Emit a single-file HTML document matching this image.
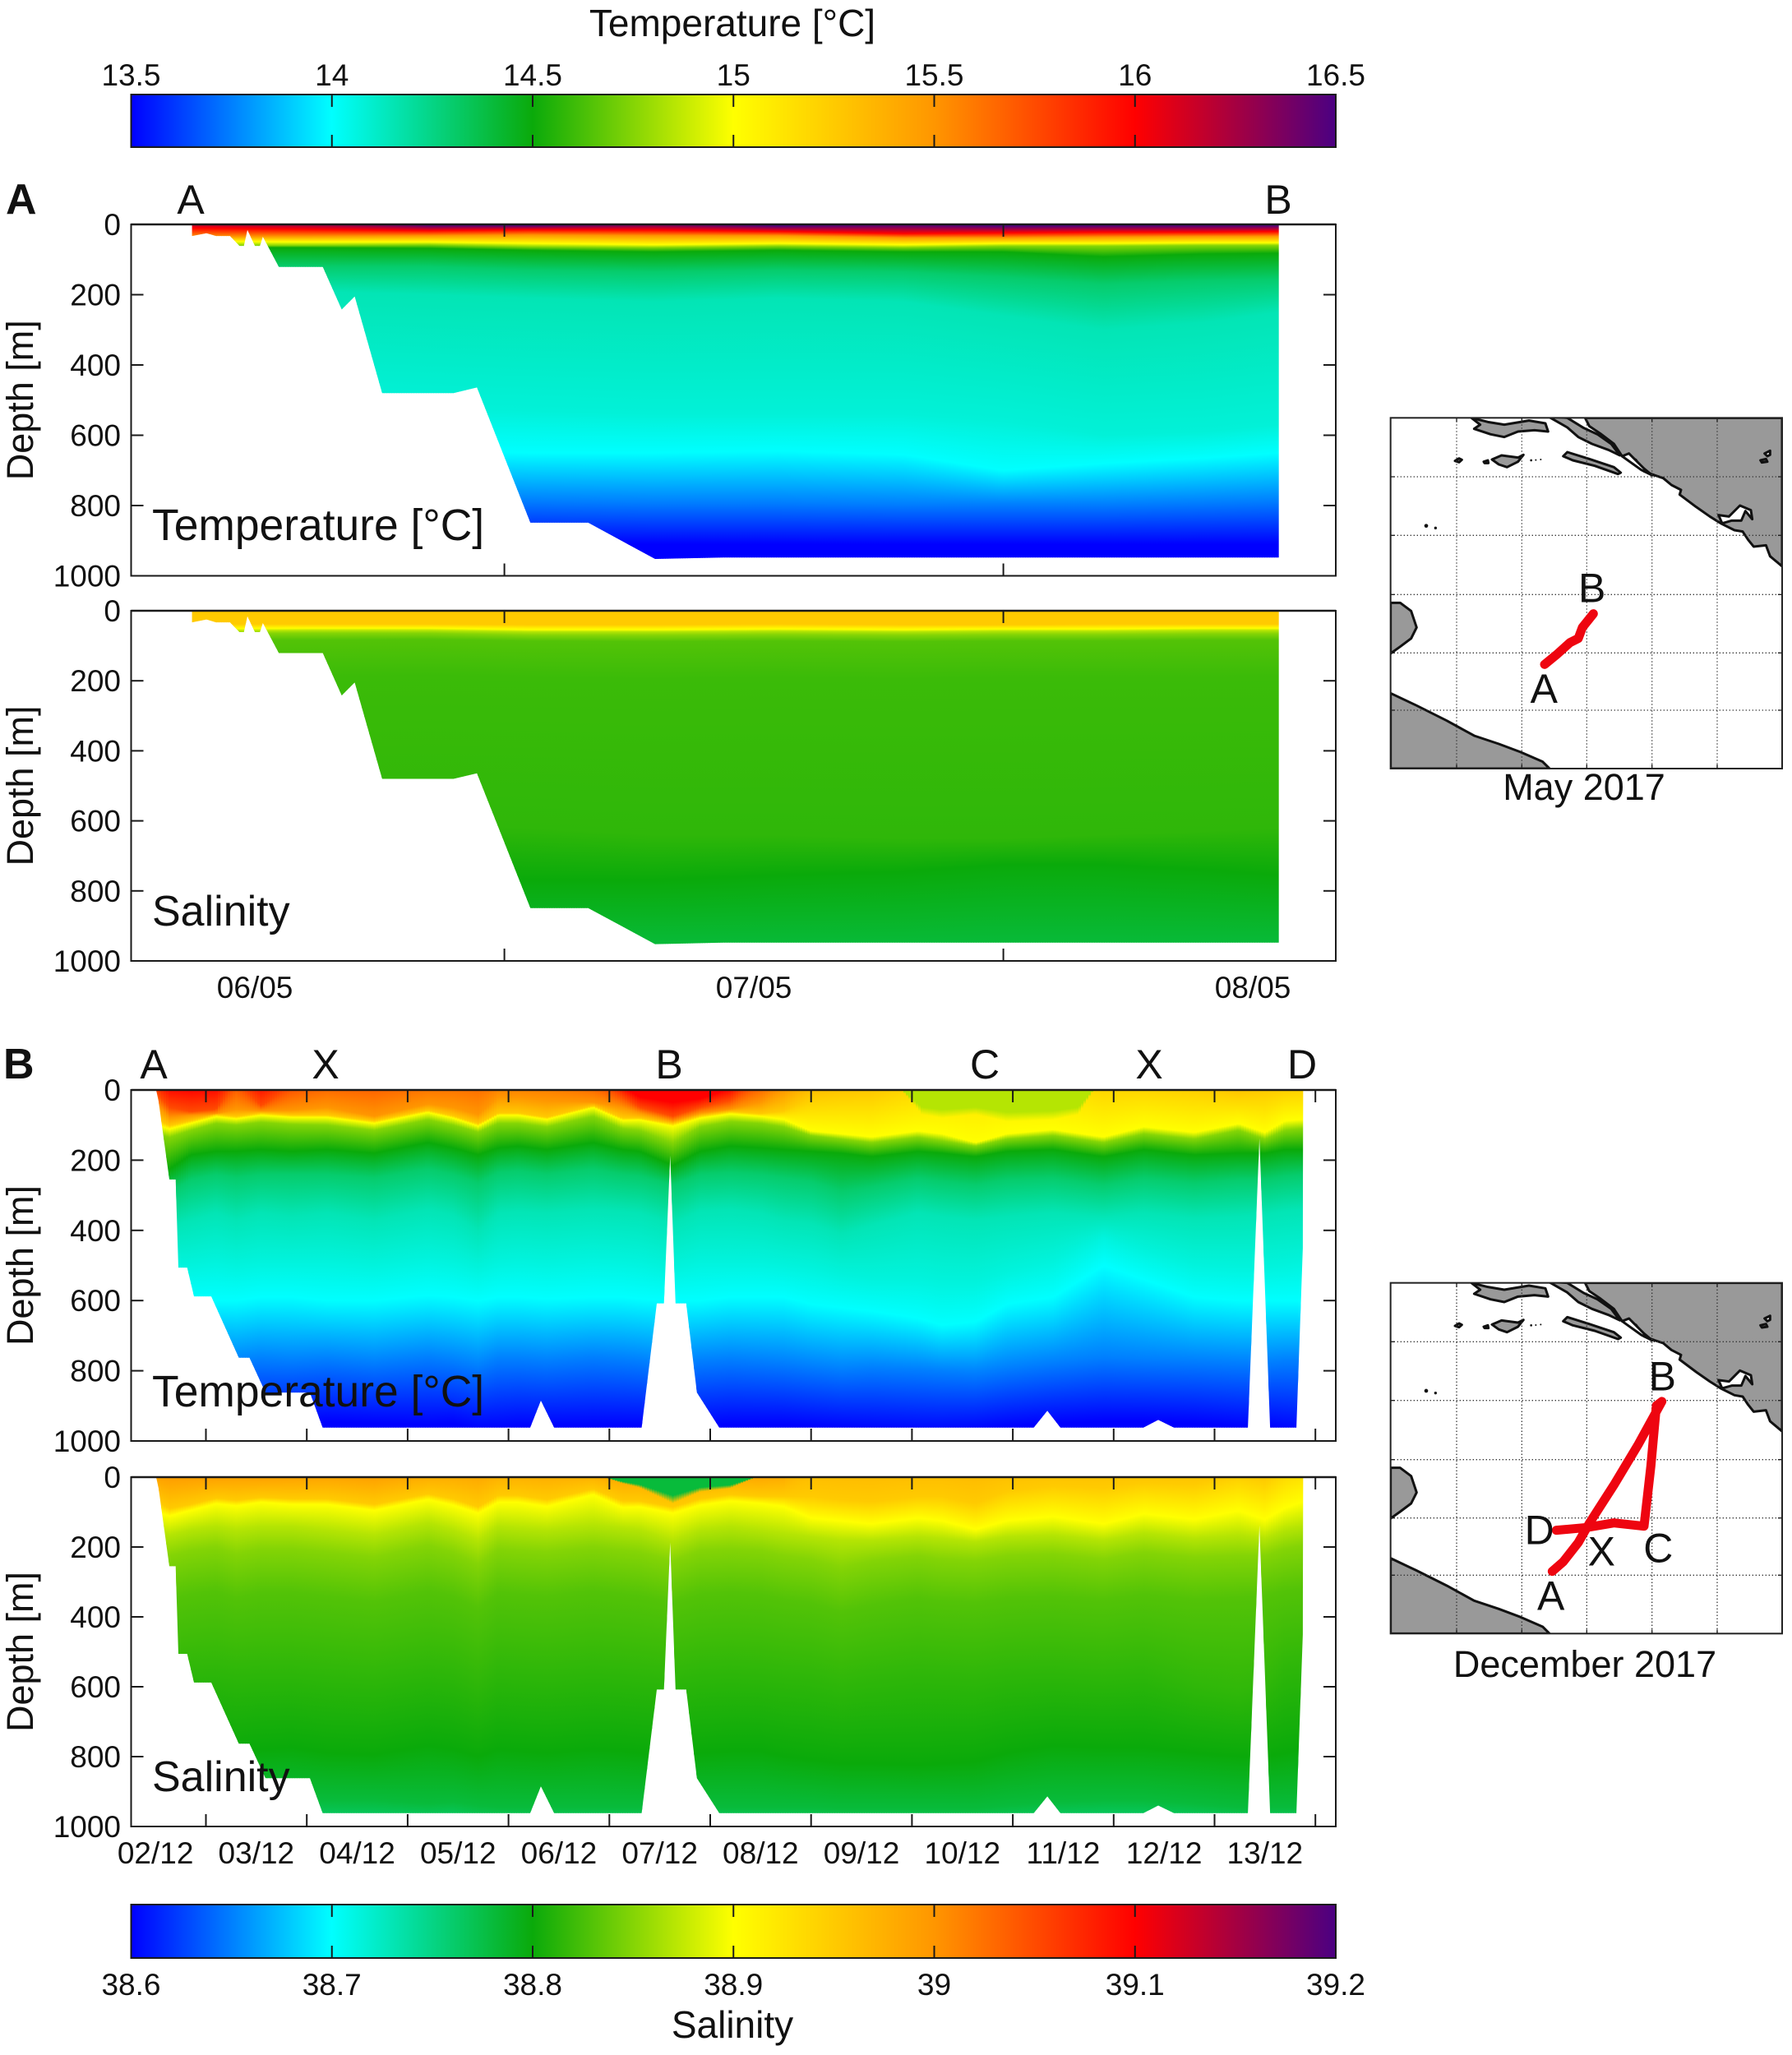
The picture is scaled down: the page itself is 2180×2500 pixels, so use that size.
<!DOCTYPE html>
<html>
<head>
<meta charset="utf-8">
<title>Temperature and salinity sections</title>
<style>
html,body{margin:0;padding:0;background:#fff;}
svg{display:block;}
text{font-family:"Liberation Sans",Arial,sans-serif;fill:#111;}
</style>
</head>
<body>
<svg id="figure" xmlns="http://www.w3.org/2000/svg" width="2180" height="2500" viewBox="0 0 2180 2500">
<defs id="defs">
<clipPath id="map-box-clip"><rect x="35" y="55" width="1429" height="1280"/></clipPath>
<g id="map-base" clip-path="url(#map-box-clip)">
<rect x="35" y="55" width="1429" height="1280" fill="#fff"/>
<g fill="#999" stroke="#111" stroke-width="9" stroke-linejoin="round">
<path d="M745,55 L760,85 L800,112 L850,150 L880,195 L930,208 L960,250 L1000,265 L1030,275 L1060,300 L1095,318 L1090,335 L1150,380 L1200,415 L1240,440 L1290,465 L1320,470 L1340,500 L1360,525 L1405,520 L1420,560 L1464,597 L1464,55 Z"/>
<path d="M610,50 L680,55 L740,92 L790,115 L840,150 L872,192 L830,172 L770,150 L720,125 L680,90 Z"/>
<path d="M330,55 L390,70 L450,80 L540,65 L600,75 L610,105 L560,100 L500,105 L450,125 L400,115 L340,95 L362,80 Z"/>
<path d="M405,207 L440,192 L500,200 L520,190 L500,215 L460,235 L430,225 Z"/>
<path d="M665,195 L680,180 L760,205 L850,235 L875,255 L865,260 L780,230 L700,210 Z"/>
<path d="M270,212 L285,203 L295,208 L285,217 Z"/>
<path d="M375,215 L390,210 L392,220 L378,220 Z"/>
<path d="M35,730 L70,730 L110,760 L130,820 L110,860 L70,890 L35,915 Z"/>
<path d="M35,1060 L130,1105 L240,1160 L340,1215 L430,1245 L510,1275 L590,1310 L615,1335 L35,1335 Z"/>
<path d="M1385,210 L1405,205 L1410,215 L1390,218 Z"/>
<path d="M1400,185 L1420,175 L1420,190 L1410,195 Z" fill="#fff"/>
<path d="M1232,410 L1270,415 L1310,375 L1350,392 L1355,425 L1330,395 L1315,430 L1280,430 L1245,440 Z" fill="#fff"/>
<path d="M880,195 L905,185 L960,240 L990,265 L950,245 Z" fill="#fff"/>
</g>
<g fill="#111">
<circle cx="165" cy="449" r="7"/><circle cx="199" cy="457" r="5"/>
<circle cx="548" cy="210" r="4"/><circle cx="565" cy="209" r="3"/><circle cx="583" cy="207" r="3"/>
</g>
<g stroke="#333" stroke-width="4" stroke-dasharray="4 8" fill="none">
<path d="M276,55V1335M514,55V1335M751,55V1335M989,55V1335M1227,55V1335"/>
<path d="M35,270H1464M35,484H1464M35,700H1464M35,913H1464M35,1122H1464"/>
</g>
<g stroke="#222" stroke-width="4" fill="none">
<path d="M276,1335v-15M514,1335v-15M751,1335v-15M989,1335v-15M1227,1335v-15M276,55v15M514,55v15M751,55v15M989,55v15M1227,55v15"/>
<path d="M35,270h15M35,484h15M35,700h15M35,913h15M35,1122h15M1464,270h-15M1464,484h-15M1464,700h-15M1464,913h-15M1464,1122h-15"/>
</g>
</g>
</defs>

<g id="heat-layer"></g>
<g id="axes-layer"></g>
<g id="bars-layer"></g>

<text x="891" y="44" font-size="46" text-anchor="middle">Temperature [°C]</text>
<text x="891" y="2479" font-size="46" text-anchor="middle">Salinity</text>

<text x="7" y="260" font-size="52" font-weight="bold">A</text>
<text x="4" y="1312" font-size="52" font-weight="bold">B</text>

<g font-size="50" text-anchor="middle">
<text x="232" y="260" text-anchor="middle">A</text>
<text x="1555" y="260" text-anchor="middle">B</text>
</g>
<g font-size="50" text-anchor="middle">
<text x="187" y="1312" text-anchor="middle">A</text>
<text x="396" y="1312" text-anchor="middle">X</text>
<text x="814" y="1312" text-anchor="middle">B</text>
<text x="1198" y="1312" text-anchor="middle">C</text>
<text x="1398" y="1312" text-anchor="middle">X</text>
<text x="1584" y="1312" text-anchor="middle">D</text>
</g>

<text x="185" y="657" font-size="53.4">Temperature [°C]</text>
<text x="185" y="1126" font-size="52">Salinity</text>
<text x="185" y="1711" font-size="53.4">Temperature [°C]</text>
<text x="185" y="2179" font-size="52">Salinity</text>

<g transform="translate(1680,490) scale(0.33333)">
<use href="#map-base"/>
<rect x="35" y="55" width="1429" height="1280" fill="none" stroke="#222" stroke-width="6"/>
<polyline points="597,955 640,920 690,875 720,860 735,820 775,770" fill="none" stroke="#ee0510" stroke-width="33" stroke-linecap="round" stroke-linejoin="round"/>
<text x="595" y="1095" font-size="150" text-anchor="middle">A</text>
<text x="770" y="728" font-size="150" text-anchor="middle">B</text>
</g>
<text x="1927" y="973" font-size="45" text-anchor="middle">May 2017</text>

<g transform="translate(1680,1542.33) scale(0.33333)">
<use href="#map-base"/>
<rect x="35" y="55" width="1429" height="1280" fill="none" stroke="#222" stroke-width="6"/>
<polyline points="625,1108 665,1073 720,1003 760,933 850,793 940,643 1025,488 1005,503 985,723 960,943 850,931 750,948 640,958" fill="none" stroke="#ee0510" stroke-width="33" stroke-linecap="round" stroke-linejoin="round"/>
<text x="620" y="1248" font-size="150" text-anchor="middle">A</text>
<text x="1027" y="448" font-size="150" text-anchor="middle">B</text>
<text x="1012" y="1075" font-size="150" text-anchor="middle">C</text>
<text x="578" y="1008" font-size="150" text-anchor="middle">D</text>
<text x="805" y="1086" font-size="150" text-anchor="middle">X</text>
</g>
<text x="1928" y="2040" font-size="45" text-anchor="middle">December 2017</text>

<script>
// ---------- tick labels ----------
const depthTicks = [0, 200, 400, 600, 800, 1000];
const tempBarTicks = [13.5, 14, 14.5, 15, 15.5, 16, 16.5];
const salBarTicks = [38.6, 38.7, 38.8, 38.9, 39, 39.1, 39.2];
const mayTickDays = [7, 8];
const mayLabelDays = [6.5, 7.5, 8.5];
const mayLabels = ['06/05', '07/05', '08/05'];
const decTickDays = [3, 4, 5, 6, 7, 8, 9, 10, 11, 12, 13, 14];
const decLabelDays = [2.5, 3.5, 4.5, 5.5, 6.5, 7.5, 8.5, 9.5, 10.5, 11.5, 12.5, 13.5];
const decLabels = ['02/12', '03/12', '04/12', '05/12', '06/12', '07/12', '08/12', '09/12', '10/12', '11/12', '12/12', '13/12'];

// ---------- colormap knots (fraction of colour range -> colour) ----------
const mapFractions = [0, 1/6, 1/3, 1/2, 2/3, 5/6, 1];
const mapColors = [[0,0,255],[0,255,255],[10,170,10],[255,255,0],[255,150,0],[255,0,0],[75,0,130]];

// ---------- May section: sea-floor depth along track ----------
const mayFloorDays = [6.374,6.374,6.403,6.422,6.450,6.469,6.478,6.485,6.500,6.510,6.516,6.548,6.636,6.674,6.700,6.755,6.898,6.945,7.052,7.168,7.302,7.439,8.552,8.552];
const mayFloorDepth = [0,33,25,33,33,61,61,16,61,61,35,121,121,242,205,480,480,464,849,849,952,948,948,0];

// ---------- May section: profile stations ----------
const mayDays = [6.37,6.6,6.85,7.05,7.3,7.55,7.8,8.0,8.2,8.4,8.553];

// May temperature: isotherm values and depth of each isotherm at each station
const mayTempLevels = [16.5,16,15.5,15,14.75,14.5,14.3,14.15,14.08,14,13.75,13.5];
const mayTemp165 = [-15,-10,2,3,-3,4,0,4,3,3,3];
const mayTemp160 = [10,14,18,15,16,20,26,24,22,22,20];
const mayTemp155 = [35,34,32,30,32,32,38,38,36,34,34];
const mayTemp150 = [48,50,50,54,58,54,58,54,54,52,52];
const mayTemp1475 = [60,60,58,64,66,62,66,62,62,60,60];
const mayTemp145 = [66,66,68,74,78,74,78,78,92,84,82];
const mayTemp143 = [120,120,120,130,135,130,135,150,170,160,155];
const mayTemp1415 = [190,190,200,210,220,210,220,260,300,280,250];
const mayTemp1408 = [500,500,520,530,540,540,540,560,600,590,570];
const mayTemp140 = [640,640,645,650,650,645,655,700,680,665,650];
const mayTemp1375 = [775,775,780,785,790,790,795,795,795,790,785];
const mayTemp135 = [908,908,908,908,910,910,910,910,910,910,910];

// May salinity: isohaline values and depths
const maySalLevels = [38.95,38.9,38.87,38.85,38.83,38.82,38.815,38.8,38.78];
const maySal3895 = [38,38,38,40,40,38,40,40,38,38,38];
const maySal389 = [52,50,50,54,54,52,54,52,52,50,50];
const maySal3887 = [58,56,56,60,60,58,60,58,58,56,56];
const maySal3885 = [66,64,64,70,70,68,70,68,68,66,66];
const maySal3883 = [85,84,82,86,88,86,88,86,86,84,84];
const maySal3882 = [190,190,185,190,195,190,195,190,190,190,188];
const maySal38815 = [620,620,610,620,640,640,650,650,640,630,620];
const maySal388 = [770,770,765,770,770,755,745,725,725,740,755];
const maySal3878 = [965,965,965,960,965,965,965,960,960,960,960];

// ---------- December section: sea-floor depth along track ----------
const decFloorDays = [2.507,2.531,2.637,2.70,2.727,2.814,2.882,3.053,3.326,3.432,3.591,4.031,4.157,6.215,6.321,6.452,7.320,7.470,7.541,7.603,7.656,7.762,7.868,8.090,11.208,11.342,11.472,12.295,12.442,12.597,13.331,13.445,13.551,13.812,13.875,13.878];
const decFloorDepth = [0,33,255,255,506,506,588,588,763,763,862,862,962,962,885,962,962,608,608,187,608,608,862,962,962,914,962,962,940,962,962,138,962,962,450,0];

// ---------- December section: profile stations ----------
const decDays = [2.51,2.64,2.85,3.1,3.3,3.55,3.85,4.2,4.67,5.2,5.45,5.7,5.9,6.1,6.38,6.84,7.13,7.3,7.63,7.9,8.2,8.5,8.73,9,9.3,9.6,10.06,10.3,10.63,10.94,11.4,11.9,12.3,12.8,13.24,13.5,13.7,13.88];

// December temperature: isotherm values and depths
const decTempLevels = [16,15.75,15.5,15.25,15,14.75,14.5,14.3,14.15,14.07,14,13.75,13.5];
const decTemp160 = [-40,-10,-5,-10,-60,-20,-60,-90,-90,-120,-130,-130,-130,-130,-140,-90,-10,20,35,25,-5,-80,-150,-250,-250,-250,-250,-250,-250,-250,-250,-250,-250,-250,-250,-250,-250,-250];
const decTemp1575 = [10,50,62,55,-20,45,-10,-40,-40,-60,-70,-70,-70,-70,-80,-30,20,50,75,50,30,-30,-80,-150,-150,-160,-200,-200,-200,-200,-200,-200,-200,-200,-200,-200,-200,-200];
const decTemp155 = [40,78,72,68,55,60,58,50,75,40,50,70,20,20,30,35,50,65,88,66,55,35,-5,-70,-70,-80,-150,-160,-170,-170,-150,-120,-120,-120,-100,-120,-130,-130];
const decTemp1525 = [85,102,88,70,76,66,72,72,88,58,74,96,66,66,78,45,80,80,96,74,62,68,60,20,10,5,-40,-80,-120,-120,-100,-40,-30,-15,10,0,-10,-15];
const decTemp150 = [100,111,95,76,82,72,78,78,95,64,80,103,72,72,84,50,87,85,103,80,68,75,84,117,125,134,117,125,150,125,113,134,105,121,96,121,88,84];
const decTemp1475 = [125,135,115,95,100,92,98,100,115,85,100,120,95,95,105,75,110,115,150,105,90,95,105,130,140,150,135,145,160,140,130,150,125,140,115,140,115,110];
const decTemp145 = [240,225,185,175,175,170,175,170,180,150,165,185,165,160,170,150,170,175,215,175,160,165,170,175,180,190,175,180,190,175,170,190,170,185,180,180,170,170];
const decTemp143 = [300,290,255,240,250,240,240,240,250,225,240,265,235,230,240,225,240,245,270,240,235,240,250,260,290,275,250,260,270,255,250,270,250,265,255,255,245,240];
const decTemp1415 = [400,390,370,350,370,350,360,350,370,340,355,400,350,345,350,340,345,350,380,345,340,350,370,380,410,385,350,360,370,360,350,360,350,365,360,355,345,340];
const decTemp1407 = [500,500,500,490,500,490,490,490,500,480,490,510,490,485,490,480,485,490,510,490,490,490,500,510,530,540,540,550,550,520,490,420,460,500,505,505,500,490];
const decTemp140 = [590,590,600,600,600,590,590,600,600,585,590,600,590,590,595,590,590,595,600,600,590,590,590,610,620,630,650,670,660,610,590,500,540,590,600,600,600,600];
const decTemp1375 = [785,785,770,765,775,765,770,765,775,760,770,785,765,765,770,760,765,770,785,770,765,770,775,785,795,790,795,800,805,790,775,760,765,770,775,775,770,770];
const decTemp135 = [960,960,960,960,960,960,950,945,950,955,950,965,965,960,960,960,960,960,960,960,955,955,955,960,965,970,975,975,970,960,950,945,945,950,960,960,970,975];

// December temperature: cooler surface layer between 10/12 and 11/12
const decTempCapDays = [9.9,10.1,10.3,10.63,10.94,11.4,11.65,11.8];
const decTempCapDepth = [0,70,80,70,90,85,70,0];
const decTempCapValue = [14.85];

// December salinity: isohaline values and depths
const decSalLevels = [39,38.95,38.9,38.87,38.85,38.83,38.815,38.8,38.78,38.765];
const decSal390 = [-20,-15,-15,-15,-20,-15,-20,-25,-20,-40,-50,-50,-60,-60,-60,-40,-30,-30,-30,-30,-30,-30,-40,-200,-200,-200,-200,-200,-200,-200,-200,-200,-200,-200,-200,-200,-200,-200];
const decSal3895 = [70,90,78,60,66,58,62,62,78,48,62,85,52,52,64,34,68,68,85,62,50,55,55,55,65,70,55,55,75,40,25,30,15,20,-10,5,-40,-60];
const decSal389 = [100,111,95,76,82,72,78,78,95,64,80,103,72,72,84,50,87,85,103,80,68,75,84,117,125,134,117,125,150,125,113,134,105,121,96,121,88,70];
const decSal3887 = [160,165,150,140,150,140,140,150,165,130,150,180,140,145,150,135,145,150,180,150,140,150,160,170,180,180,170,175,185,170,165,180,160,175,165,175,150,140];
const decSal3885 = [225,225,210,200,220,205,205,215,230,195,215,250,205,210,215,200,210,215,240,210,205,210,225,235,260,240,225,235,240,225,220,235,215,230,225,225,205,195];
const decSal3883 = [350,350,335,325,345,330,330,340,355,325,340,375,330,335,340,325,335,340,360,335,330,335,350,360,385,365,345,355,360,345,340,350,335,350,345,340,325,320];
const decSal38815 = [560,560,550,545,555,550,550,560,570,545,555,590,550,555,560,550,555,560,570,555,550,555,565,570,590,575,560,565,570,555,550,560,550,600,620,600,540,530];
const decSal388 = [780,780,775,770,790,780,775,790,795,770,780,800,780,785,790,780,785,790,800,790,785,785,800,810,820,820,825,820,815,790,770,775,775,790,800,800,790,780];
const decSal3878 = [940,940,935,925,930,925,925,925,925,935,930,940,945,945,945,945,945,945,945,945,945,945,945,945,950,950,950,950,950,940,930,925,925,935,945,945,945,945];
const decSal38765 = [985,985,980,975,980,975,975,972,972,975,972,985,985,985,985,985,985,985,985,985,985,985,985,990,990,990,990,990,990,985,975,970,970,980,985,985,985,985];

// December salinity: fresher surface lens near waypoint B
const decSalCapDays = [6.95,7.13,7.3,7.63,7.9,8.2,8.45];
const decSalCapDepth = [0,18,30,75,42,32,0];
const decSalCapValue = [38.78];

// ---------- helpers ----------
const SVGNS = 'http://www.w3.org/2000/svg';
const defs = document.getElementById('defs');
const heatLayer = document.getElementById('heat-layer');
const axesLayer = document.getElementById('axes-layer');
const barsLayer = document.getElementById('bars-layer');
let uid = 0;

const PLOT_LEFT = 159.5, PLOT_RIGHT = 1625;
function xMay(d) { return 613.6 + (d - 7) * 607; }
function xDec(d) { return 250.5 + (d - 3) * 122.7; }
function dayMay(px) { return 7 + (px - 613.6) / 607; }
function dayDec(px) { return 3 + (px - 250.5) / 122.7; }
function depthScale(top, bottom) { return function (m) { return top + m * (bottom - top) / 1000; }; }

function colorAt(v, vmin, vmax) {
  const t = Math.max(0, Math.min(1, (v - vmin) / (vmax - vmin)));
  let i = 0;
  while (i < mapFractions.length - 2 && t > mapFractions[i + 1]) i++;
  const f = (t - mapFractions[i]) / (mapFractions[i + 1] - mapFractions[i]);
  const a = mapColors[i], b = mapColors[i + 1];
  return 'rgb(' + Math.round(a[0] + (b[0] - a[0]) * f) + ',' + Math.round(a[1] + (b[1] - a[1]) * f) + ',' + Math.round(a[2] + (b[2] - a[2]) * f) + ')';
}
function interp(xs, ys, x) {
  if (x <= xs[0]) return ys[0];
  for (let i = 1; i < xs.length; i++) {
    if (x <= xs[i]) return ys[i - 1] + (ys[i] - ys[i - 1]) * (x - xs[i - 1]) / (xs[i] - xs[i - 1]);
  }
  return ys[ys.length - 1];
}
function valueAtDepth(depths, levels, m) {
  if (m <= depths[0]) return levels[0];
  for (let i = 1; i < depths.length; i++) {
    if (m <= depths[i]) {
      const span = depths[i] - depths[i - 1];
      return span <= 0 ? levels[i] : levels[i - 1] + (levels[i] - levels[i - 1]) * (m - depths[i - 1]) / span;
    }
  }
  return levels[levels.length - 1];
}

function drawField(name, xFn, dayFn, top, bottom, floorDays, floorDepth, days, levels, isoRows, vmin, vmax, capDays, capDepth, capValue) {
  const yFn = depthScale(top, bottom);
  const group = document.createElementNS(SVGNS, 'g');
  
  

  const clip = document.createElementNS(SVGNS, 'clipPath');
  const clipId = 'clip-' + (uid++);
  clip.setAttribute('id', clipId);
  const poly = document.createElementNS(SVGNS, 'polygon');
  poly.setAttribute('points', floorDays.map(function (d, i) { return xFn(d).toFixed(1) + ',' + yFn(floorDepth[i]).toFixed(1); }).join(' '));
  clip.appendChild(poly);
  defs.appendChild(clip);
  group.setAttribute('clip-path', 'url(#' + clipId + ')');

  const STEP = 3;
  const x0 = Math.floor(xFn(floorDays[0])) - STEP;
  const x1 = Math.ceil(xFn(floorDays[floorDays.length - 1])) + STEP;
  const gradTop = -300, gradBottom = 1000;
  for (let px = x0; px < x1; px += STEP) {
    const day = dayFn(px + STEP / 2);
    let depths = [];
    let run = -1e9;
    for (let k = 0; k < levels.length; k++) {
      const m = Math.max(interp(days, isoRows[k], day), run + 0.01);
      depths.push(m);
      run = m;
    }
    let stops = depths.map(function (m, k) { return { m: m, v: levels[k] }; });
    if (capDays) {
      const cd = interp(capDays, capDepth, day);
      if (cd > 0.5) {
        const below = valueAtDepth(depths, levels, cd);
        stops = stops.filter(function (s) { return s.m > cd; });
        stops.unshift({ m: cd, v: below });
        stops.unshift({ m: cd * 0.7, v: capValue[0] });
        stops.unshift({ m: gradTop, v: capValue[0] });
      }
    }
    const grad = document.createElementNS(SVGNS, 'linearGradient');
    const gid = 'g-' + (uid++);
    grad.setAttribute('id', gid);
    grad.setAttribute('gradientUnits', 'userSpaceOnUse');
    grad.setAttribute('x1', '0');
    grad.setAttribute('x2', '0');
    grad.setAttribute('y1', yFn(gradTop));
    grad.setAttribute('y2', yFn(gradBottom));
    stops.forEach(function (s) {
      const st = document.createElementNS(SVGNS, 'stop');
      st.setAttribute('offset', Math.max(0, Math.min(1, (s.m - gradTop) / (gradBottom - gradTop))).toFixed(5));
      st.setAttribute('stop-color', colorAt(s.v, vmin, vmax));
      grad.appendChild(st);
    });
    defs.appendChild(grad);
    const r = document.createElementNS(SVGNS, 'rect');
    
    
    r.setAttribute('x', px);
    r.setAttribute('y', top);
    r.setAttribute('width', STEP + 0.6);
    r.setAttribute('height', bottom - top);
    r.setAttribute('fill', 'url(#' + gid + ')');
    group.appendChild(r);
  }
  heatLayer.appendChild(group);
}

function addLine(parent, x1, y1, x2, y2, w, name) {
  const l = document.createElementNS(SVGNS, 'line');
  
  
  l.setAttribute('x1', x1);
  l.setAttribute('y1', y1);
  l.setAttribute('x2', x2);
  l.setAttribute('y2', y2);
  l.setAttribute('stroke', '#1a1a1a');
  l.setAttribute('stroke-width', w);
  parent.appendChild(l);
}
function addText(parent, x, y, size, anchor, str, name) {
  const t = document.createElementNS(SVGNS, 'text');
  
  
  t.setAttribute('x', x);
  t.setAttribute('y', y);
  t.setAttribute('font-size', size);
  t.setAttribute('text-anchor', anchor);
  t.textContent = str;
  parent.appendChild(t);
}

function drawAxes(name, top, bottom, xFn, tickDays) {
  const yFn = depthScale(top, bottom);
  const g = document.createElementNS(SVGNS, 'g');
  
  
  const frame = document.createElementNS(SVGNS, 'rect');
  
  
  frame.setAttribute('x', PLOT_LEFT);
  frame.setAttribute('y', top);
  frame.setAttribute('width', PLOT_RIGHT - PLOT_LEFT);
  frame.setAttribute('height', bottom - top);
  frame.setAttribute('fill', 'none');
  frame.setAttribute('stroke', '#1a1a1a');
  frame.setAttribute('stroke-width', '2');
  g.appendChild(frame);
  addLine(g, PLOT_LEFT, top, PLOT_RIGHT, top, 2.6, name + '-top-edge');
  depthTicks.forEach(function (m) {
    const y = yFn(m);
    if (m > 0 && m < 1000) {
      addLine(g, PLOT_LEFT, y, PLOT_LEFT + 15, y, 2, name + '-left-tick');
      addLine(g, PLOT_RIGHT, y, PLOT_RIGHT - 15, y, 2, name + '-right-tick');
    }
    addText(g, 147, y + 13, 37, 'end', String(m), name + '-depth-tick-label');
  });
  tickDays.forEach(function (d) {
    const x = xFn(d);
    addLine(g, x, top, x, top + 15, 2, name + '-top-tick');
    addLine(g, x, bottom, x, bottom - 15, 2, name + '-bottom-tick');
  });
  const t = document.createElementNS(SVGNS, 'text');
  
  
  t.setAttribute('transform', 'translate(40,' + ((top + bottom) / 2 + 0) + ') rotate(-90)');
  t.setAttribute('font-size', '45');
  t.setAttribute('text-anchor', 'middle');
  t.textContent = 'Depth [m]';
  g.appendChild(t);
  axesLayer.appendChild(g);
}

function drawColorbar(name, top, bottom, ticks, labelBaseline) {
  const vmin = ticks[0], vmax = ticks[ticks.length - 1];
  const g = document.createElementNS(SVGNS, 'g');
  
  
  const grad = document.createElementNS(SVGNS, 'linearGradient');
  const gid = 'bar-' + (uid++);
  grad.setAttribute('id', gid);
  mapFractions.forEach(function (f, i) {
    const st = document.createElementNS(SVGNS, 'stop');
    st.setAttribute('offset', f);
    st.setAttribute('stop-color', 'rgb(' + mapColors[i].join(',') + ')');
    grad.appendChild(st);
  });
  defs.appendChild(grad);
  const r = document.createElementNS(SVGNS, 'rect');
  
  
  r.setAttribute('x', PLOT_LEFT);
  r.setAttribute('y', top);
  r.setAttribute('width', PLOT_RIGHT - PLOT_LEFT);
  r.setAttribute('height', bottom - top);
  r.setAttribute('fill', 'url(#' + gid + ')');
  r.setAttribute('stroke', '#1a1a1a');
  r.setAttribute('stroke-width', '2');
  g.appendChild(r);
  ticks.forEach(function (v) {
    const x = PLOT_LEFT + (v - vmin) / (vmax - vmin) * (PLOT_RIGHT - PLOT_LEFT);
    addLine(g, x, top, x, top + 15, 2, name + '-top-tick');
    addLine(g, x, bottom, x, bottom - 15, 2, name + '-bottom-tick');
    addText(g, x, labelBaseline, 37, 'middle', String(v), name + '-tick-label');
  });
  barsLayer.appendChild(g);
}

// ---------- draw ----------
drawField('may-temperature', xMay, dayMay, 273, 700.5, mayFloorDays, mayFloorDepth, mayDays, mayTempLevels,
  [mayTemp165, mayTemp160, mayTemp155, mayTemp150, mayTemp1475, mayTemp145, mayTemp143, mayTemp1415, mayTemp1408, mayTemp140, mayTemp1375, mayTemp135],
  13.5, 16.5);
drawField('may-salinity', xMay, dayMay, 743, 1169, mayFloorDays, mayFloorDepth, mayDays, maySalLevels,
  [maySal3895, maySal389, maySal3887, maySal3885, maySal3883, maySal3882, maySal38815, maySal388, maySal3878],
  38.6, 39.2);
drawField('december-temperature', xDec, dayDec, 1326, 1753, decFloorDays, decFloorDepth, decDays, decTempLevels,
  [decTemp160, decTemp1575, decTemp155, decTemp1525, decTemp150, decTemp1475, decTemp145, decTemp143, decTemp1415, decTemp1407, decTemp140, decTemp1375, decTemp135],
  13.5, 16.5, decTempCapDays, decTempCapDepth, decTempCapValue);
drawField('december-salinity', xDec, dayDec, 1797, 2222, decFloorDays, decFloorDepth, decDays, decSalLevels,
  [decSal390, decSal3895, decSal389, decSal3887, decSal3885, decSal3883, decSal38815, decSal388, decSal3878, decSal38765],
  38.6, 39.2, decSalCapDays, decSalCapDepth, decSalCapValue);

drawAxes('may-temperature', 273, 700.5, xMay, mayTickDays);
drawAxes('may-salinity', 743, 1169, xMay, mayTickDays);
drawAxes('december-temperature', 1326, 1753, xDec, decTickDays);
drawAxes('december-salinity', 1797, 2222, xDec, decTickDays);

mayLabelDays.forEach(function (d, i) {
  addText(axesLayer, xMay(d), 1214, 37, 'middle', mayLabels[i], 'may-date-label');
});
decLabelDays.forEach(function (d, i) {
  addText(axesLayer, xDec(d), 2267, 37, 'middle', decLabels[i], 'december-date-label');
});

drawColorbar('temperature-colorbar', 115, 179, tempBarTicks, 104);
drawColorbar('salinity-colorbar', 2317, 2382, salBarTicks, 2427);
</script>
</svg>
</body>
</html>
